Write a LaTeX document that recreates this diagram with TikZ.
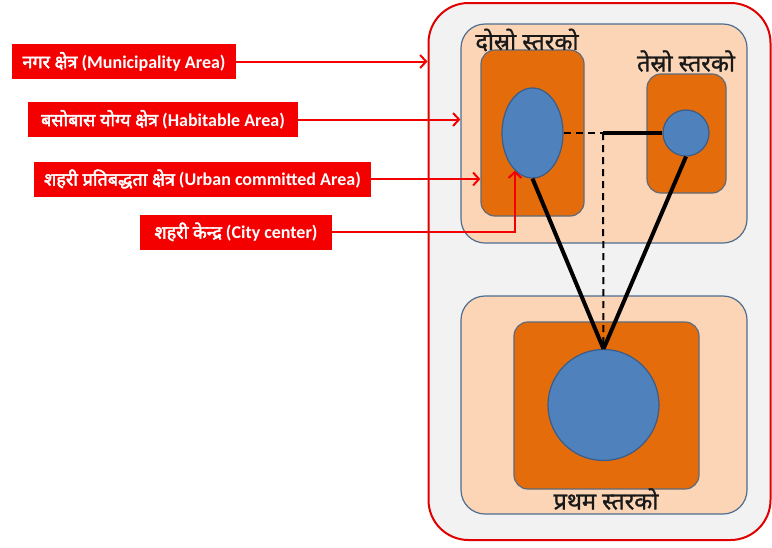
\documentclass[tikz,border=0pt]{standalone}
\usepackage{fontspec}
\newfontfamily\dev[Script=Devanagari, AutoFakeBold=2.5]{Noto Sans}
\newfontfamily\devtier[Script=Devanagari, FakeBold=1.2]{Noto Sans}
\newfontfamily\lat{Carlito}
\usetikzlibrary{arrows.meta,shapes.geometric}
\definecolor{outerfill}{HTML}{F2F2F2}
\definecolor{outerred}{HTML}{E00000}
\definecolor{peach}{HTML}{FBD5B5}
\definecolor{peachline}{HTML}{4F6E8F}
\definecolor{orng}{HTML}{E46C0A}
\definecolor{orngline}{HTML}{5F6B7A}
\definecolor{blu}{HTML}{4F81BD}
\definecolor{bluline}{HTML}{385D8A}
\definecolor{labred}{HTML}{F40000}
\newcommand{\devlab}[1]{{\dev\bfseries\fontsize{18}{20}\selectfont #1}}
\begin{document}
\begin{tikzpicture}[x=1pt,y=-1pt,
  box/.style={inner sep=0pt, rounded corners=#1},
  outerbox/.style={box=40pt, draw=outerred, line width=2pt, fill=outerfill},
  peachbox/.style={box=24pt, draw=peachline, line width=1.2pt, fill=peach},
  orngbox/.style={box=14pt, draw=orngline, line width=1.2pt, fill=orng},
  bluenode/.style={inner sep=0pt, draw=bluline, line width=1.2pt, fill=blu},
  lab/.style={fill=labred, text=white, inner sep=0pt, minimum height=35pt,
    font=\lat\bfseries\fontsize{18}{20}\selectfont},
  ptr/.style={draw=labred, line width=2pt, -{Straight Barb[length=6pt,width=13pt,line width=2pt]}},
  tier/.style={font=\devtier\fontsize{23.5}{26}\selectfont, inner sep=0pt, text=black!90},
  thick link/.style={line width=4pt},
  dash link/.style={line width=2pt, dash pattern=on 7pt off 5pt}
]
\useasboundingbox (0,0) rectangle (772,547);
% outer municipality area
\node[outerbox, minimum width=342pt, minimum height=537pt] (outer) at (599.5,271.5) {};
% upper habitable area
\node[peachbox, minimum width=286pt, minimum height=219pt] (peachU) at (604,133.5) {};
\node[orngbox, minimum width=103pt, minimum height=166pt] (orngL) at (532.5,133) {};
\node[orngbox, minimum width=79pt, minimum height=119pt] (orngR) at (686.5,133.5) {};
\node[bluenode, ellipse, minimum width=61pt, minimum height=90pt] (ell) at (532.5,133) {};
\node[bluenode, circle, minimum size=46pt] (sc) at (686,133) {};
% lower habitable area
\node[peachbox, minimum width=286pt, minimum height=218pt] (peachD) at (604,405) {};
\node[orngbox, minimum width=185pt, minimum height=167pt] (orngD) at (606.5,405.5) {};
\node[bluenode, circle, minimum size=111pt] (big) at (603.5,405) {};
% tier labels
\node[tier] (t2) at (527,40) {दोस्रो स्तरको};
\node[tier] (t3) at (686,61) {तेस्रो स्तरको};
\node[tier] (t1) at (606,499) {प्रथम स्तरको};
% links
\coordinate (j) at (603,133);
\draw[dash link] (ell.east) -- (j);
\draw[thick link] (j) -- (sc.west);
\draw[dash link] (j) -- (big.north);
\draw[thick link] (ell.south) -- (big.north);
\draw[thick link] (sc.south) -- (big.north);
% red labels
\node[lab, minimum width=224pt] (l1) at (124,61.5) {\devlab{नगर क्षेत्र} (Municipality Area)};
\node[lab, minimum width=270pt] (l2) at (163,119.5) {\devlab{बसोबास योग्य क्षेत्र} (Habitable Area)};
\node[lab, minimum width=337pt] (l3) at (202.5,179) {\devlab{शहरी प्रतिबद्धता क्षेत्र} (Urban committed Area)};
\node[lab, minimum width=192pt] (l4) at (236,232) {\devlab{शहरी केन्द्र} (City center)};
\draw[ptr] (l1.east) -- (l1.east -| outer.west);
\draw[ptr] (l2.east) -- (l2.east -| peachU.west);
\draw[ptr] (l3.east) -- (l3.east -| orngL.west);
\draw[ptr] (l4.east) -| (ell.245);
\end{tikzpicture}
\end{document}
